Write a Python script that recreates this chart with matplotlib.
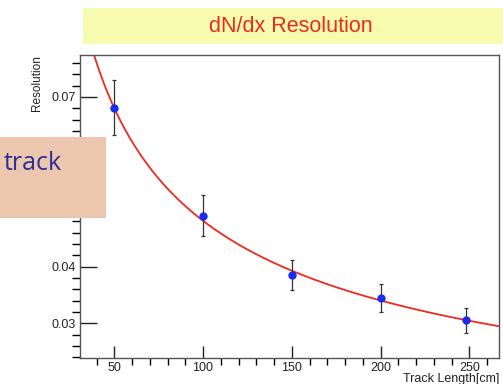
import numpy as np
import matplotlib
matplotlib.use("Agg")
import matplotlib.pyplot as plt
from matplotlib.patches import Rectangle
from matplotlib.ticker import MultipleLocator

# Data
track_length = [50, 100, 150, 200, 248]
resolution = [0.0681, 0.0490, 0.0385, 0.0344, 0.0305]
res_error = [0.0049, 0.0036, 0.0027, 0.0025, 0.0022]
# fit: resolution = fit_a * L^(-fit_b)
fit_a = 0.481
fit_b = 0.5
xticks = [50, 100, 150, 200, 250]
yticks = [0.03, 0.04, 0.05, 0.06, 0.07]
# 0.05 and 0.06 labels are covered by the overlay box in the reference
ytick_labels = ['0.03', '0.04', '', '', '0.07']

plt.rcParams['font.family'] = ['Liberation Sans', 'DejaVu Sans']

fig = plt.figure(figsize=(5.03, 3.84), dpi=100)
W, H = 503, 384
ax = fig.add_axes([80 / W, 1 - 357.7 / H, 419 / W, (357.7 - 55) / H])

xs = np.linspace(30, 270, 400)
ax.plot(xs, fit_a * xs ** (-fit_b), color='#ee2a1f', lw=1.3, zorder=2)
ax.errorbar(track_length, resolution, yerr=res_error, fmt='o', color='#1a2cf0',
            ms=5, ecolor='#333333', elinewidth=0.9, capsize=1.5, capthick=0.9, zorder=3)

ax.set_xlim(30.7, 266.7)
ax.set_ylim(0.0239, 0.0774)
ax.set_xticks(xticks)
ax.set_yticks(yticks)
ax.set_yticklabels(ytick_labels)
ax.xaxis.set_minor_locator(MultipleLocator(10))
ax.yaxis.set_minor_locator(MultipleLocator(0.002))
ax.tick_params(axis='both', direction='in', labelsize=9, colors='#222222')
ax.tick_params(axis='y', which='major', length=12, width=1, pad=3)
ax.tick_params(axis='y', which='minor', length=6, width=1)
ax.tick_params(axis='x', which='major', length=9, width=1, pad=3)
ax.tick_params(axis='x', which='minor', length=5, width=1)
for s in ax.spines.values():
    s.set_color('#555555')
    s.set_linewidth(1.0)

fig.text(37 / W, 1 - 55 / H, 'Resolution', rotation=90, ha='center', va='top',
         fontsize=8.5, color='#222222')
fig.text(499 / W, 1 - 379 / H, 'Track Length[cm]', ha='right', va='center',
         fontsize=9, color='#222222')

# Title banner
fig.add_artist(Rectangle((83 / W, 1 - 44 / H), (W - 83) / W, 36 / H,
                         transform=fig.transFigure, facecolor='#f6fbb0',
                         edgecolor='none', zorder=10))
fig.text(291 / W, 1 - 26 / H, 'dN/dx Resolution', ha='center', va='center',
         fontsize=15.5, color='#ee2a1f', zorder=11)

# Overlay box
fig.add_artist(Rectangle((0, 1 - 218.3 / H), 105.7 / W, 81.6 / H,
                         transform=fig.transFigure, facecolor='#edc6ae',
                         edgecolor='none', zorder=10))
fig.text(4 / W, 1 - 163 / H, 'track', ha='left', va='center',
         fontsize=18, color='#2b2f96', family=['Open Sans', 'DejaVu Sans'], zorder=11)

fig.savefig('out.png', dpi=100)
